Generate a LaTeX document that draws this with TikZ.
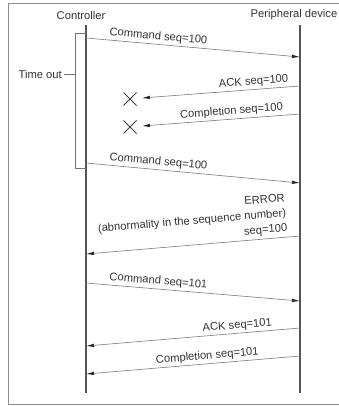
\documentclass[tikz,border=0pt]{standalone}
\usepackage{fontspec}
\setmainfont{Liberation Sans}
\usetikzlibrary{arrows.meta,calc}
\definecolor{lifec}{HTML}{555555}
\definecolor{arrc}{HTML}{7A7A7A}
\definecolor{txtc}{HTML}{333333}
\begin{document}
\begin{tikzpicture}[x=1pt,y=-1pt,
  every node/.style={font=\fontsize{11.2}{14}\selectfont, text=txtc, inner sep=1pt},
  life/.style={draw=lifec, line width=1.8pt},
  msg/.style={draw=arrc, line width=0.6pt, -{Latex[length=8pt,width=3.5pt,color=black!85]}},
  lbl/.style={above=1.2pt, sloped},
  xmark/.style={draw=black!75, line width=1pt},
  frame/.style={draw=black!45, line width=0.8pt}]
\useasboundingbox (0,0) rectangle (338,406);
% frame
\draw[frame] (345,3) -- (8,3) -- (8,404) -- (345,404);
% headers
\node (ctl) at (81,15) {Controller};
\node (dev) at (294,15) {Peripheral device};
% lifelines
\coordinate (ct) at (86,25);
\coordinate (cb) at (86,393);
\coordinate (dt) at (300,25);
\coordinate (db) at (300,393);
\draw[life] (ct) -- (cb);
\draw[life] (dt) -- (db);
% message coordinates
\coordinate (c1) at (86,38);   \coordinate (d1) at (300,57);
\coordinate (d2) at (300,86);  \coordinate (x1a) at (142,98);
\coordinate (d3) at (300,114); \coordinate (x2a) at (142,126);
\coordinate (c4) at (86,163);  \coordinate (d4) at (300,183);
\coordinate (d5) at (300,236); \coordinate (c5) at (86,254);
\coordinate (c6) at (86,283);  \coordinate (d6) at (300,301);
\coordinate (d7) at (300,328); \coordinate (c7) at (86,346);
\coordinate (d8) at (300,356); \coordinate (c8) at (86,374);
% messages
\draw[msg] (c1) -- node[lbl, pos=0.335] (l1) {Command seq=100} (d1);
\draw[msg] (d2) -- node[lbl, pos=0.29] (l2) {ACK seq=100} (x1a);
\draw[msg] (d3) -- node[lbl, pos=0.43] (l3) {Completion seq=100} (x2a);
\draw[msg] (c4) -- node[lbl, pos=0.335] (l4) {Command seq=100} (d4);
\draw[msg] (d5) -- node[above=2pt, sloped, pos=0.05, anchor=south east, align=right, font=\fontsize{11.2}{15}\selectfont] (l5) {ERROR\\(abnormality in the sequence number)\\seq=100} (c5);
\draw[msg] (c6) -- node[lbl, pos=0.335] (l6) {Command seq=101} (d6);
\draw[msg] (d7) -- node[lbl, pos=0.29] (l7) {ACK seq=101} (c7);
\draw[msg] (d8) -- node[lbl, pos=0.43] (l8) {Completion seq=101} (c8);
% X marks
\coordinate (xm1) at (130,99);
\coordinate (xm2) at (130,127);
\draw[xmark] ($(xm1)+(-6.5,-6.5)$) -- ($(xm1)+(6.5,6.5)$) ($(xm1)+(-6.5,6.5)$) -- ($(xm1)+(6.5,-6.5)$);
\draw[xmark] ($(xm2)+(-6.5,-6.5)$) -- ($(xm2)+(6.5,6.5)$) ($(xm2)+(-6.5,6.5)$) -- ($(xm2)+(6.5,-6.5)$);
% time out bracket
\coordinate (bt) at (86,33);
\coordinate (bb) at (86,168);
\coordinate (btl) at (75,33);
\coordinate (bbl) at (75,168);
\coordinate (bm) at (75,74);
\coordinate (bmt) at (64,74);
\draw[draw=black!55, line width=0.8pt] (bt) -- (btl) -- (bbl) -- (bb);
\draw[draw=black!55, line width=0.8pt] (bm) -- (bmt);
\node[anchor=east, inner sep=2pt] (to) at (bmt) {Time out};
\end{tikzpicture}
\end{document}
